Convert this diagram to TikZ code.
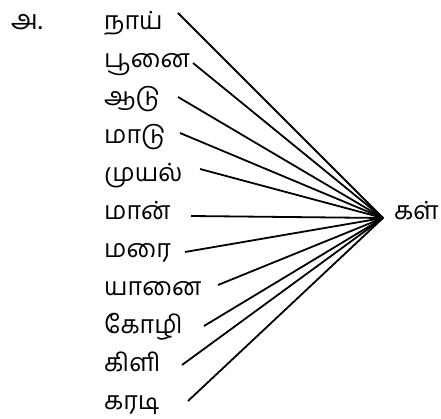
\documentclass[tikz,border=0pt]{standalone}
\usepackage{fontspec}
\newfontfamily\tamil[Script=Tamil]{Hind Madurai}
\begin{document}
\begin{tikzpicture}[x=1pt,y=-1pt,
  word/.style={anchor=base west,inner sep=0pt,font=\tamil\fontsize{25}{30}\selectfont},
  link/.style={line width=1.8pt}]
\useasboundingbox (0,0) rectangle (441,419);
\node[word,font=\tamil\fontsize{27}{30}\selectfont] (lbl) at (11,30) {அ.};
\node[word] (w1) at (104,30) {நாய்};
\node[word] (w2) at (104,68) {பூனை};
\node[word] (w3) at (104,106) {ஆடு};
\node[word] (w4) at (104,144) {மாடு};
\node[word] (w5) at (104,182) {முயல்};
\node[word] (w6) at (104,220) {மான்};
\node[word] (w7) at (104,258) {மரை};
\node[word] (w8) at (104,295) {யானை};
\node[word] (w9) at (104,333) {கோழி};
\node[word] (w10) at (104,371) {கிளி};
\node[word] (w11) at (104,409) {கரடி};
\node[word] (kal) at (394,220) {கள்};
\coordinate (hub) at (383,218);
\coordinate (s1) at (178,13);
\coordinate (s2) at (193,63);
\coordinate (s3) at (178,97);
\coordinate (s4) at (180,133);
\coordinate (s5) at (200,169);
\coordinate (s6) at (191,216);
\coordinate (s7) at (185,252);
\coordinate (s8) at (218,285);
\coordinate (s9) at (204,326);
\coordinate (s10) at (182,365);
\coordinate (s11) at (188,401);
\foreach \i in {1,...,11} \draw[link] (s\i) -- (hub);
\end{tikzpicture}
\end{document}
